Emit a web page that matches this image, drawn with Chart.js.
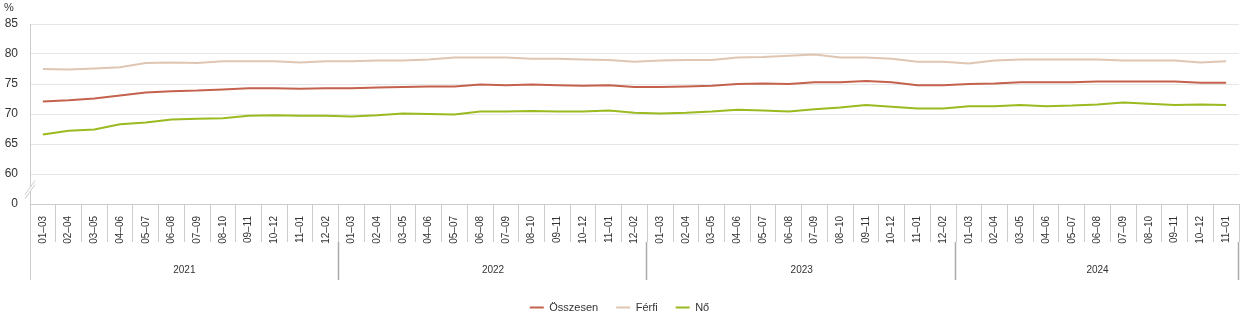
<!DOCTYPE html>
<html>
<head>
<meta charset="utf-8">
<script src="https://cdn.jsdelivr.net/npm/chart.js@4"></script>
<style>
  body { margin: 0; background: #fff; }
  #wrap { width: 1243px; height: 329px; position: relative; }
</style>
</head>
<body>
<div id="wrap"><canvas id="employmentChart"></canvas></div>
<script>
const FONT = '"Liberation Sans", Arial, sans-serif';

const years = ['2021', '2022', '2023', '2024'];
const yearCounts = [12, 12, 12, 11];
const periods = ['01–03', '02–04', '03–05', '04–06', '05–07', '06–08', '07–09', '08–10', '09–11', '10–12', '11–01', '12–02'];

// one label per point, periods repeated per year
const labels = years.flatMap((year, k) => periods.slice(0, yearCounts[k]));

const osszesen = [
  72.1, 72.3, 72.6, 73.1, 73.6, 73.8, 73.9, 74.1, 74.3, 74.3, 74.2, 74.3,
  74.3, 74.4, 74.5, 74.6, 74.6, 74.9, 74.8, 74.9, 74.8, 74.7, 74.8, 74.5,
  74.5, 74.6, 74.7, 75.0, 75.1, 75.0, 75.3, 75.3, 75.5, 75.3, 74.8, 74.8,
  75.0, 75.1, 75.3, 75.3, 75.3, 75.4, 75.4, 75.4, 75.4, 75.2, 75.2
];
const ferfi = [
  77.5, 77.4, 77.6, 77.8, 78.5, 78.6, 78.5, 78.8, 78.8, 78.8, 78.6, 78.8,
  78.8, 78.9, 78.9, 79.1, 79.4, 79.4, 79.4, 79.2, 79.2, 79.1, 79.0, 78.7,
  78.9, 79.0, 79.0, 79.4, 79.5, 79.7, 79.9, 79.4, 79.4, 79.2, 78.7, 78.7,
  78.4, 78.9, 79.1, 79.1, 79.1, 79.1, 78.9, 78.9, 78.9, 78.6, 78.8
];
const no = [
  66.6, 67.2, 67.4, 68.3, 68.6, 69.1, 69.2, 69.3, 69.7, 69.8, 69.7, 69.7,
  69.6, 69.8, 70.1, 70.0, 69.9, 70.4, 70.4, 70.5, 70.4, 70.4, 70.6, 70.2,
  70.1, 70.2, 70.4, 70.7, 70.6, 70.4, 70.8, 71.1, 71.5, 71.2, 70.9, 70.9,
  71.3, 71.3, 71.5, 71.3, 71.4, 71.6, 71.9, 71.7, 71.5, 71.6, 71.5
];

// year groups under the x axis, "%" unit and the axis break mark
const extras = {
  id: 'extras',
  afterDraw(chart) {
    const {ctx, chartArea, scales: {x, y}} = chart;
    const top = x.top;
    const cell = x.getPixelForValue(1) - x.getPixelForValue(0);
    ctx.save();

    // unit
    ctx.font = '11px ' + FONT;
    ctx.fillStyle = '#333';
    ctx.textAlign = 'left';
    ctx.textBaseline = 'middle';
    ctx.fillText('%', 4, 8);

    // left edge of the group row
    ctx.strokeStyle = '#ccc';
    ctx.lineWidth = 1;
    ctx.beginPath();
    ctx.moveTo(chartArea.left + 0.5, top);
    ctx.lineTo(chartArea.left + 0.5, top + 76);
    ctx.stroke();

    ctx.font = '10px ' + FONT;
    ctx.textAlign = 'center';
    let start = 0;
    years.forEach((year, k) => {
      const end = start + yearCounts[k] - 1;
      const left = x.getPixelForValue(start) - cell / 2;
      const right = x.getPixelForValue(end) + cell / 2;
      ctx.fillText(year, (left + right) / 2, top + 66);
      ctx.strokeStyle = '#aaa';
      ctx.lineWidth = 1.5;
      ctx.beginPath();
      ctx.moveTo(Math.round(right) - 0.5, top + 38);
      ctx.lineTo(Math.round(right) - 0.5, top + 76);
      ctx.stroke();
      start = end + 1;
    });

    // axis break
    const bx = chartArea.left;
    const by = y.getPixelForValue(57.4);
    ctx.fillStyle = '#fff';
    ctx.beginPath();
    ctx.moveTo(bx - 5, by + 5);
    ctx.lineTo(bx + 5, by - 9);
    ctx.lineTo(bx + 5, by - 5);
    ctx.lineTo(bx - 5, by + 9);
    ctx.closePath();
    ctx.fill();
    ctx.strokeStyle = '#ccc';
    ctx.lineWidth = 1;
    ctx.beginPath();
    ctx.moveTo(bx - 5, by + 5);
    ctx.lineTo(bx + 5, by - 9);
    ctx.moveTo(bx - 5, by + 9);
    ctx.lineTo(bx + 5, by - 5);
    ctx.stroke();
    ctx.restore();
  }
};

const line = (label, data, color) => ({
  label,
  data,
  borderColor: color,
  backgroundColor: color,
  borderWidth: 2,
  pointRadius: 0,
  pointHoverRadius: 0,
  tension: 0
});

new Chart(document.getElementById('employmentChart'), {
  type: 'line',
  data: {
    labels,
    datasets: [
      line('Összesen', osszesen, '#c4624d'),
      line('Férfi', ferfi, '#dfc6b3'),
      line('Nő', no, '#9aba1f')
    ]
  },
  options: {
    responsive: true,
    maintainAspectRatio: false,
    animation: false,
    layout: { padding: { top: 24, right: 4, bottom: 6, left: 0 } },
    plugins: {
      tooltip: { enabled: false },
      legend: {
        position: 'bottom',
        labels: {
          usePointStyle: true,
          pointStyle: 'line',
          pointStyleWidth: 14,
          padding: 18,
          color: '#333',
          font: { family: FONT, size: 11 }
        }
      }
    },
    scales: {
      x: {
        offset: true,
        grid: { offset: true, drawOnChartArea: false, tickLength: 38, color: '#ccc' },
        border: { color: '#ccc' },
        ticks: {
          autoSkip: false,
          minRotation: 90,
          maxRotation: 90,
          padding: -26,
          color: '#333',
          font: { family: FONT, size: 10 }
        },
        afterFit: scale => { scale.height = 80; }
      },
      y: {
        min: 55,
        max: 85,
        ticks: {
          stepSize: 5,
          padding: 12,
          color: '#333',
          font: { family: FONT, size: 12 },
          callback: v => (v === 55 ? '0' : v)
        },
        grid: {
          drawTicks: false,
          color: c => (c.tick.value === 55 ? 'rgba(0,0,0,0)' : '#e6e6e6')
        },
        border: { color: '#ccc' },
        afterFit: scale => { scale.width = 30; }
      }
    }
  },
  plugins: [extras]
});
</script>
</body>
</html>
